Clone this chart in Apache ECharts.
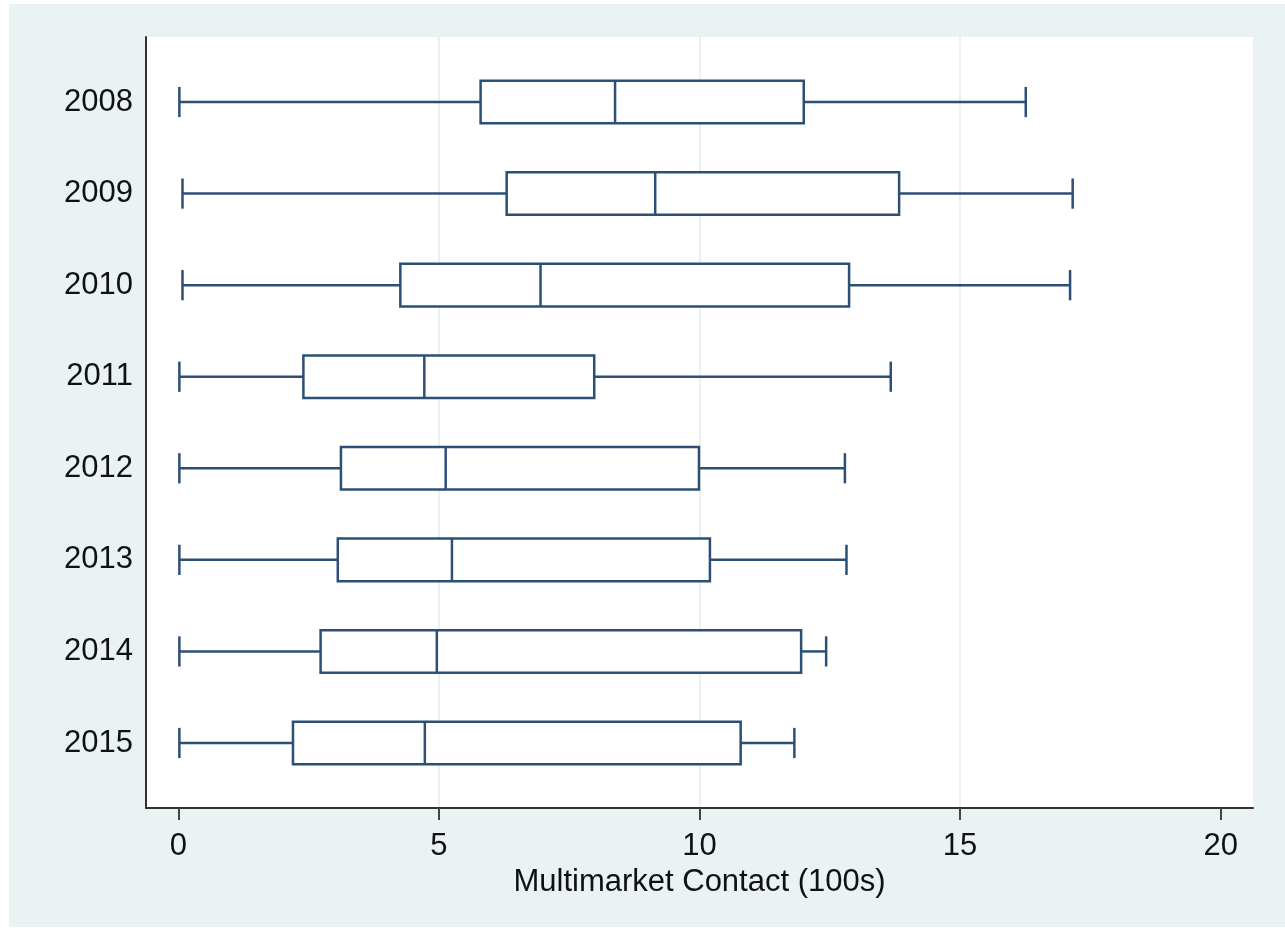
<!DOCTYPE html>
<html>
<head>
<meta charset="utf-8">
<script src="https://cdn.jsdelivr.net/npm/echarts@6/dist/echarts.min.js"></script>
<style>
  html, body { margin: 0; padding: 0; background: #fff; }
  #main { position: absolute; left: 9px; top: 4px; width: 1276px; height: 923px; }
</style>
</head>
<body>
<div id="main"></div>
<script>
// box plot stats per year (hundreds of contacts)
var years = ['2008', '2009', '2010', '2011', '2012', '2013', '2014', '2015'];
var lowWhisker = [0.02, 0.08, 0.08, 0.02, 0.02, 0.02, 0.02, 0.02];
var q1 = [5.80, 6.30, 4.26, 2.40, 3.12, 3.06, 2.73, 2.20];
var median = [8.38, 9.15, 6.95, 4.72, 5.13, 5.25, 4.96, 4.73];
var q3 = [12.00, 13.83, 12.87, 7.98, 9.99, 10.20, 11.95, 10.79];
var highWhisker = [16.26, 17.16, 17.11, 13.67, 12.79, 12.82, 12.43, 11.82];
var xTicks = [0, 5, 10, 15, 20];

var navy = '#2c4f76';
var font = 'Liberation Sans, Arial, sans-serif';

var data = [];
for (var i = 0; i < years.length; i++) {
    data.push([i + 1, lowWhisker[i], q1[i], median[i], q3[i], highWhisker[i]]);
}
var yPos = [];
for (var k = 0; k < years.length; k++) yPos.push(k + 1);

function renderBox(params, api) {
    var y = api.value(0);
    var pLow = api.coord([api.value(1), y]);
    var pQ1 = api.coord([api.value(2), y]);
    var pMed = api.coord([api.value(3), y]);
    var pQ3 = api.coord([api.value(4), y]);
    var pHigh = api.coord([api.value(5), y]);
    var boxH = api.size([0, 0.465])[1];
    var capH = api.size([0, 0.33])[1];
    var cy = pMed[1];
    var st = { stroke: navy, lineWidth: 2.5, fill: null };
    return {
        type: 'group',
        children: [
            { type: 'line', shape: { x1: pLow[0], y1: cy, x2: pQ1[0], y2: cy }, style: st },
            { type: 'line', shape: { x1: pQ3[0], y1: cy, x2: pHigh[0], y2: cy }, style: st },
            { type: 'line', shape: { x1: pLow[0], y1: cy - capH / 2, x2: pLow[0], y2: cy + capH / 2 }, style: st },
            { type: 'line', shape: { x1: pHigh[0], y1: cy - capH / 2, x2: pHigh[0], y2: cy + capH / 2 }, style: st },
            { type: 'rect', shape: { x: pQ1[0], y: cy - boxH / 2, width: pQ3[0] - pQ1[0], height: boxH },
              style: { stroke: navy, lineWidth: 2.5, fill: '#fff' } },
            { type: 'line', shape: { x1: pMed[0], y1: cy - boxH / 2, x2: pMed[0], y2: cy + boxH / 2 }, style: st }
        ]
    };
}

var myChart = echarts.init(document.getElementById('main'));
var option = {
    backgroundColor: '#eaf2f3',
    animation: false,
    grid: {
        left: 137, right: 32, top: 33, bottom: 119,
        show: true, backgroundColor: '#fff', borderWidth: 0
    },
    xAxis: {
        type: 'value',
        min: -0.62,
        max: 20.62,
        interval: 5,
        name: 'Multimarket Contact (100s)',
        nameLocation: 'middle',
        nameGap: 57,
        nameTextStyle: { fontFamily: font, fontSize: 31, color: '#111' },
        axisLine: { show: true, onZero: false, lineStyle: { color: '#333', width: 2 } },
        axisTick: { show: true, customValues: xTicks, length: 12, lineStyle: { color: '#444', width: 2 } },
        axisLabel: { customValues: xTicks, margin: 23, fontFamily: font, fontSize: 31, color: '#111' },
        splitLine: { show: true, showMinLine: false, showMaxLine: false, lineStyle: { color: '#e3ecee', width: 1.5 } }
    },
    yAxis: {
        type: 'value',
        inverse: true,
        min: 0.29,
        max: 8.71,
        axisLine: { show: true, onZero: false, lineStyle: { color: '#333', width: 2 } },
        axisTick: { show: false, customValues: yPos },
        axisLabel: {
            customValues: yPos,
            margin: 13,
            padding: [6, 0, 0, 0],
            fontFamily: font, fontSize: 31, color: '#111',
            formatter: function (v) { return years[Math.round(v) - 1]; }
        },
        splitLine: { show: false }
    },
    series: [{
        type: 'custom',
        renderItem: renderBox,
        encode: { x: [1, 2, 3, 4, 5], y: 0 },
        data: data
    }]
};
myChart.setOption(option);
</script>
</body>
</html>
